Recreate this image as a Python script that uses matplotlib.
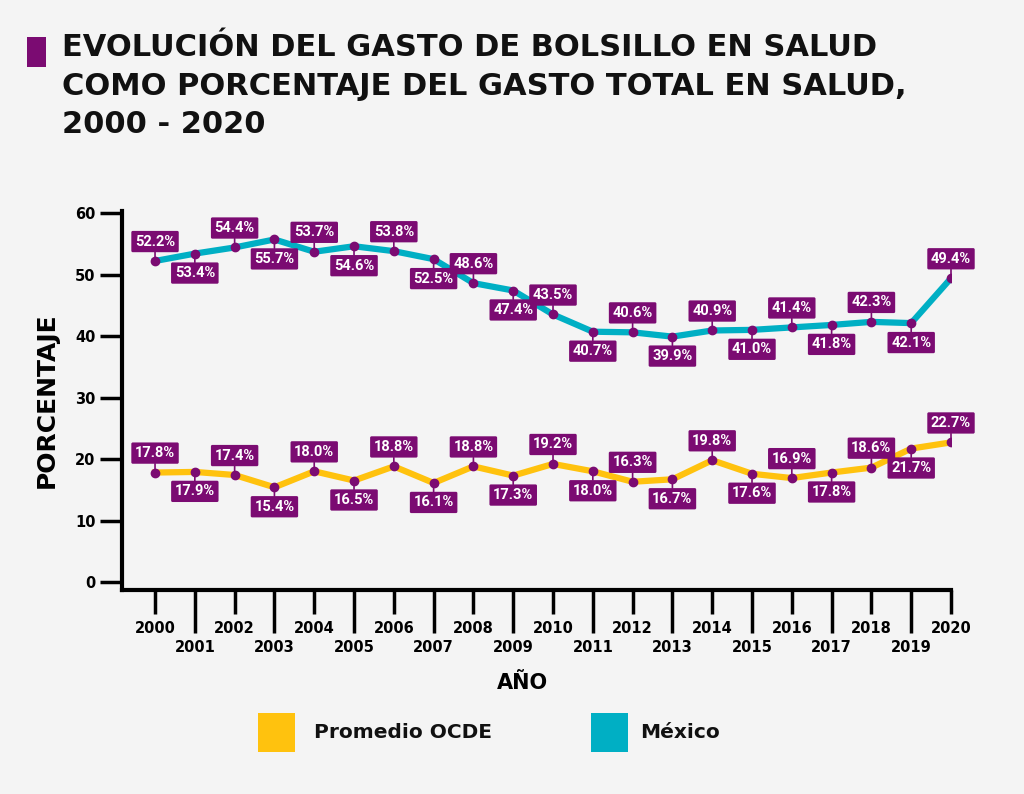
import numpy as np
import matplotlib.pyplot as plt
from matplotlib.patches import Rectangle

# Data
years = list(range(2000, 2021))
mexico = [52.2, 53.4, 54.4, 55.7, 53.7, 54.6, 53.8, 52.5, 48.6, 47.4, 43.5,
          40.7, 40.6, 39.9, 40.9, 41.0, 41.4, 41.8, 42.3, 42.1, 49.4]
ocde = [17.8, 17.9, 17.4, 15.4, 18.0, 16.5, 18.8, 16.1, 18.8, 17.3, 19.2,
        18.0, 16.3, 16.7, 19.8, 17.6, 16.9, 17.8, 18.6, 21.7, 22.7]
y_ticks = [0, 10, 20, 30, 40, 50, 60]
series_names = ["Promedio OCDE", "México"]

# Colors
bg = "#F4F4F4"
purple = "#7B0B72"
teal = "#00AFC4"
yellow = "#FFC20E"

main_font = ["DejaVu Sans"]
label_font = ["Roboto", "DejaVu Sans"]

fig = plt.figure(figsize=(10.24, 7.94), dpi=100, facecolor=bg)
W, H = 1024, 794

# Axes placed in pixel terms
ax = fig.add_axes([122 / W, 204 / H, 829 / W, 379 / H], facecolor=bg)

for vals, color in [(ocde, yellow), (mexico, teal)]:
    ax.plot(years, vals, color=color, lw=4.5, zorder=2, solid_joinstyle="round")
    ax.plot(years, vals, "o", color=purple, ms=6, zorder=4)
    for i, (x, v) in enumerate(zip(years, vals)):
        off = 14 if i % 2 == 0 else -14
        ax.annotate(f"{v:.1f}%", xy=(x, v), xytext=(0, off),
                    textcoords="offset points", ha="center", va="center",
                    color="white", fontsize=10.5, fontweight="bold", family=label_font,
                    bbox=dict(boxstyle="round,pad=0.25,rounding_size=0.1",
                              fc=purple, ec="none"),
                    arrowprops=dict(arrowstyle="-", color=purple, lw=1.2,
                                    shrinkA=0, shrinkB=0),
                    zorder=5)

ax.set_xlim(1999.17, 2020)
ax.set_ylim(-1.3, 60.33)

for s in ["top", "right"]:
    ax.spines[s].set_visible(False)
for s in ["left", "bottom"]:
    ax.spines[s].set_linewidth(3)
    ax.spines[s].set_capstyle("projecting")

ax.set_yticks(y_ticks)
ax.set_yticklabels([str(t) for t in y_ticks], fontsize=10.5, fontweight="bold",
                   family=main_font)
ax.tick_params(axis="y", length=16, width=2.5, pad=3)

even = [y for y in years if y % 2 == 0]
odd = [y for y in years if y % 2 == 1]
ax.set_xticks(even)
ax.set_xticklabels([str(y) for y in even], fontsize=10.5, fontweight="bold",
                   family=main_font)
ax.set_xticks(odd, minor=True)
ax.set_xticklabels([str(y) for y in odd], minor=True, fontsize=10.5,
                   fontweight="bold", family=main_font)
ax.tick_params(axis="x", which="major", length=17, width=2.5, pad=5)
ax.tick_params(axis="x", which="minor", length=31, width=2.5, pad=5)

ax.set_ylabel("PORCENTAJE", fontsize=18, fontweight="bold", family=main_font,
              labelpad=12)
ax.set_xlabel("AÑO", fontsize=15, fontweight="bold", family=main_font)
ax.xaxis.set_label_coords((522 - 122) / 829, -(683 - 590) / 379, transform=ax.transAxes)
ax.xaxis.label.set_va("center")

# Title block
fig.patches.append(Rectangle((27 / W, 1 - 67 / H), 19 / W, 30 / H,
                             transform=fig.transFigure, fc=purple, ec="none"))
fig.text(62 / W, 1 - 33 / H,
         "EVOLUCIÓN DEL GASTO DE BOLSILLO EN SALUD\n"
         "COMO PORCENTAJE DEL GASTO TOTAL EN SALUD,\n2000 - 2020",
         fontsize=22, fontweight="bold", family=main_font, va="top",
         ha="left", linespacing=1.42, color="#111111")

# Legend
for (x0, tx), name, color in zip([(258, 314), (591, 640)], series_names,
                                 [yellow, teal]):
    fig.patches.append(Rectangle((x0 / W, 1 - 752 / H), 37 / W, 39 / H,
                                 transform=fig.transFigure, fc=color, ec="none"))
    fig.text(tx / W, 1 - 732 / H, name, fontsize=14.5, fontweight="bold",
             family=main_font, va="center", ha="left", color="#111111")

fig.savefig("out.png", dpi=100, facecolor=bg)
